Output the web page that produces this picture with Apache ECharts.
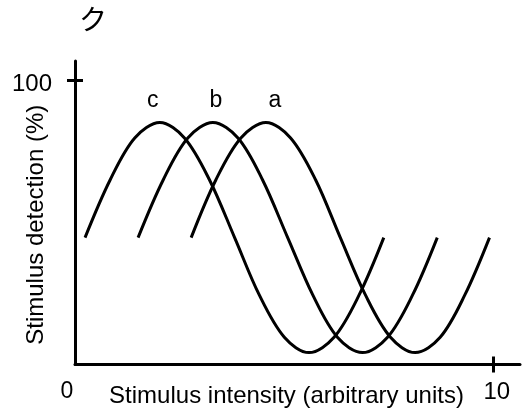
<!DOCTYPE html>
<html>
<head>
<meta charset="utf-8">
<script src="https://cdn.jsdelivr.net/npm/echarts@6/dist/echarts.min.js"></script>
<style>
  html, body { margin: 0; padding: 0; background: #fff; }
  #chart { width: 524px; height: 418px; }
</style>
</head>
<body>
<div id="chart"></div>
<script>
// stimulus intensity points for each curve (arbitrary units)
const intensityC = [0.24, 0.84, 1.43, 2.03, 2.62, 3.22, 3.82, 4.41, 5.01, 5.60, 6.20, 6.80, 7.39]
const intensityB = [1.51, 2.11, 2.70, 3.30, 3.90, 4.49, 5.09, 5.69, 6.28, 6.88, 7.48, 8.08, 8.67]
const intensityA = [2.78, 3.37, 3.97, 4.57, 5.16, 5.76, 6.35, 6.95, 7.55, 8.14, 8.74, 9.33, 9.92]
// detection (%) read at those points, same shape for all three curves
const detection = [44.7, 65, 79.8, 85.2, 79.8, 65, 44.7, 24.5, 9.6, 4.2, 9.6, 24.5, 44.7]
const curveNames = ['c', 'b', 'a']
const labelShift = [-7, 3, 9]
const xTicks = [0, 10]
const yTicks = [100]

const font = 'Liberation Sans, Arial, sans-serif'
const black = '#000'

const makeSeries = (name, xs, shift) => ({
  name,
  type: 'line',
  smooth: 0.34,
  showSymbol: true,
  symbol: 'circle',
  symbolSize: 0,
  lineStyle: { color: black, width: 3 },
  itemStyle: { color: black },
  data: xs.map((x, i) => {
    if (i !== 3) return [x, detection[i]]
    return {
      value: [x, detection[i]],
      label: {
        show: true,
        formatter: name,
        position: 'top',
        distance: 10,
        offset: [shift, 0],
        color: black,
        fontFamily: font,
        fontSize: 23
      }
    }
  })
})

const chart = echarts.init(document.getElementById('chart'))
chart.setOption({
  animation: false,
  backgroundColor: '#fff',
  title: {
    text: 'ク',
    left: 79,
    top: 5,
    padding: 0,
    textStyle: { fontFamily: 'Noto Sans CJK JP', fontSize: 28, fontWeight: 'normal', color: black }
  },
  grid: { left: 75, right: 4, top: 61, bottom: 53.5, containLabel: false, outerBoundsMode: 'none' },
  xAxis: [{
    type: 'value',
    min: 0,
    max: 10.65,
    splitLine: { show: false },
    axisLine: { show: true, lineStyle: { color: black, width: 3 } },
    axisTick: { show: true, customValues: xTicks.slice(1), length: 8, lineStyle: { color: black, width: 3 } },
    axisLabel: {
      customValues: xTicks,
      margin: 16,
      color: black,
      fontFamily: font,
      fontSize: 24,
      formatter: v => (v === 0 ? '{z|0}' : '{t|' + v + '}'),
      rich: {
        z: { fontFamily: font, fontSize: 23, padding: [0, 16, 0, 0] },
        t: { fontFamily: font, fontSize: 24, padding: [0, 0, 0, 8] }
      }
    },
    name: 'Stimulus intensity (arbitrary units)',
    nameLocation: 'middle',
    nameGap: 20,
    nameMoveOverlap: false,
    nameTextStyle: { color: black, fontFamily: font, fontSize: 24, padding: [0, 22, 0, 0] }
  }, {
    // second copy of the axis only for the inward half of the crossing tick
    type: 'value',
    position: 'bottom',
    offset: 0,
    min: 0,
    max: 10.65,
    splitLine: { show: false },
    axisLine: { show: false, onZero: false },
    axisLabel: { show: false },
    axisTick: { show: true, inside: true, customValues: xTicks.slice(1), length: 8, lineStyle: { color: black, width: 3 } }
  }],
  yAxis: [{
    type: 'value',
    min: 0,
    max: 106.9,
    splitLine: { show: false },
    axisLine: { show: true, lineStyle: { color: black, width: 3 } },
    axisTick: { show: true, customValues: yTicks, length: 8, lineStyle: { color: black, width: 3 } },
    axisLabel: {
      customValues: yTicks,
      margin: 23,
      color: black,
      fontFamily: font,
      fontSize: 24,
      formatter: v => '{h|' + v + '}',
      rich: { h: { fontFamily: font, fontSize: 24, padding: [8, 0, 0, 0] } }
    },
    name: 'Stimulus detection (%)',
    nameLocation: 'middle',
    nameGap: 27,
    nameMoveOverlap: false,
    nameTextStyle: { color: black, fontFamily: font, fontSize: 24, padding: [0, 24, 0, 0] }
  }, {
    type: 'value',
    position: 'left',
    offset: 0,
    min: 0,
    max: 106.9,
    splitLine: { show: false },
    axisLine: { show: false, onZero: false },
    axisLabel: { show: false },
    axisTick: { show: true, inside: true, customValues: yTicks, length: 8, lineStyle: { color: black, width: 3 } }
  }],
  series: [
    makeSeries(curveNames[0], intensityC, labelShift[0]),
    makeSeries(curveNames[1], intensityB, labelShift[1]),
    makeSeries(curveNames[2], intensityA, labelShift[2])
  ]
})
</script>
</body>
</html>
